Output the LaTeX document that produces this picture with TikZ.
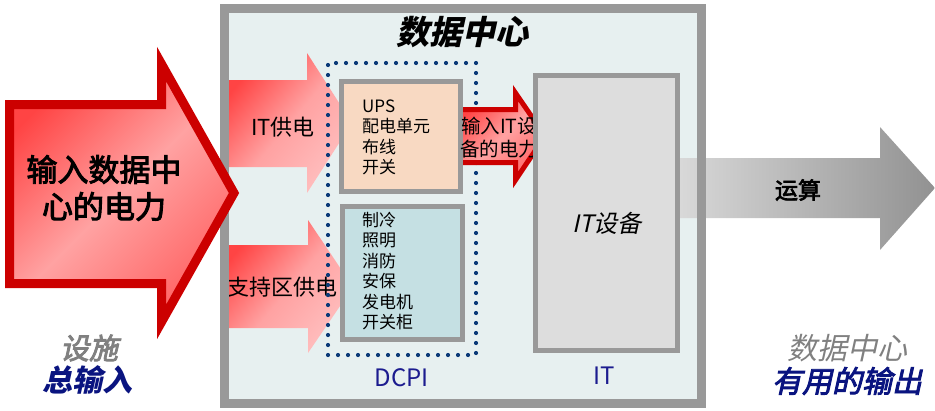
\documentclass[tikz,border=0pt]{standalone}
\usepackage{fontspec}
\setmainfont{Noto Sans CJK SC}
\newfontfamily\slantf[FakeSlant=0.22]{Noto Sans CJK SC}
\newfontfamily\medf[FakeBold=3]{Noto Sans CJK SC}
\newfontfamily\medslantf[FakeSlant=0.22,FakeBold=3]{Noto Sans CJK SC}
\definecolor{frameGray}{HTML}{999999}
\definecolor{frameFill}{HTML}{E7F0F0}
\definecolor{upsFill}{HTML}{F8D9C2}
\definecolor{coolFill}{HTML}{C5E0E3}
\definecolor{itFill}{HTML}{DDDDDD}
\definecolor{dotBlue}{HTML}{0B3A78}
\definecolor{labBlue}{HTML}{1C1C8F}
\definecolor{navy}{HTML}{0A1480}
\definecolor{darkRed}{HTML}{CC0000}
\definecolor{txtGray}{HTML}{808080}
\definecolor{redA}{HTML}{FF4444}
\definecolor{redB}{HTML}{FFA2A2}
\definecolor{redC}{HTML}{FF6464}
\definecolor{pinkD}{HTML}{FFC0C0}
\begin{document}
\begin{tikzpicture}[x=1pt,y=-1pt,
  framefill/.style={fill=frameFill,draw=none,minimum width=477pt,minimum height=395pt,inner sep=0pt},
  framestroke/.style={draw=frameGray,line width=9pt},
  inbox/.style={draw=frameGray,line width=5pt,inner sep=0pt},
  dotbox/.style={draw=dotBlue,line width=4.2pt,dash pattern=on 0pt off 10pt,line cap=round,inner sep=0pt},
  bigarrow/.style={top color=redA,bottom color=redC,middle color=redB,shading angle=45},
  subarrow/.style={top color=redA,bottom color=pinkD,middle color=redB,shading angle=50},
  midarrow/.style={top color=redA,bottom color=redC,middle color=redB,shading angle=45},
  grayarrow/.style={left color=black!15,right color=black!43},
  lab/.style={inner sep=0pt,align=center},
  listtxt/.style={inner sep=0pt,align=left,anchor=west,font=\fontsize{17}{20.4}\selectfont}
]
\useasboundingbox (0,0) rectangle (935,410);
% frame background
\node[framefill] (dc) at (463,206) {};
% IT power arrow
\path[subarrow] (228,80) -- (307,80) -- (307,53) -- (352,123) -- (307,193) -- (307,167) -- (228,167) -- cycle;
\node[lab,font=\fontsize{22}{26}\selectfont] (itpower) at (283,127) {IT供电};
% support power arrow
\path[subarrow] (228,245) -- (308,245) -- (308,220) -- (353,287) -- (308,353) -- (308,328) -- (228,328) -- cycle;
\node[lab,font=\fontsize{22}{26}\selectfont] (suppower) at (282,287) {支持区供电};
% dotted DCPI box
\node[dotbox,minimum width=148pt,minimum height=292pt] (dcpi) at (402,209) {};
% small red arrow
\path[midarrow] (461,109.5) -- (515.5,109.5) -- (515.5,93) -- (545,136) -- (515.5,180) -- (515.5,162.5) -- (461,162.5) -- cycle;
\draw[darkRed,line width=5pt,line join=miter] (461,109.5) -- (515.5,109.5) -- (515.5,93) -- (545,136) -- (515.5,180) -- (515.5,162.5) -- (461,162.5);
% boxes
\node[inbox,fill=upsFill,minimum width=119pt,minimum height=110pt] (ups) at (401,136.5) {};
\node[inbox,fill=coolFill,minimum width=120pt,minimum height=133pt] (cool) at (402.5,273) {};
\node[listtxt] (upslist) at (362,137.5) {UPS\\配电单元\\布线\\开关};
\node[listtxt] (coollist) at (362,271) {制冷\\照明\\消防\\安保\\发电机\\开关柜};
\node[lab,font=\fontsize{19.5}{23}\selectfont] (itin) at (499,138) {输入IT设\\备的电力};
% grey output arrow
\path[grayarrow] (678,158) -- (880,158) -- (880,127) -- (935,188) -- (880,250) -- (880,218) -- (678,218) -- cycle;
\node[inbox,fill=itFill,minimum width=142pt,minimum height=275pt] (it) at (606.5,213) {};
\node[lab,font=\slantf\fontsize{24}{28}\selectfont] (itdev) at (607,223) {IT设备};
% frame stroke
\draw[framestroke] (dc.north west) rectangle (dc.south east);
% big input arrow
\draw[bigarrow,draw=darkRed,line width=9pt,line join=miter] (9.5,104.5) -- (161.5,104.5) -- (161.5,64) -- (234,193) -- (161.5,322) -- (161.5,283.5) -- (9.5,283.5) -- cycle;
\node[lab,font=\medf\fontsize{31}{37}\selectfont] (bigtxt) at (104,188) {输入数据中\\心的电力};
% labels
\node[lab,font=\slantf\bfseries\fontsize{33}{37}\selectfont] (title) at (462,32) {数据中心};
\node[lab,text=labBlue,font=\fontsize{24}{28}\selectfont] (dcpilab) at (402,378) {DCPI};
\node[lab,text=labBlue,font=\fontsize{24}{28}\selectfont] (itlab) at (604,376) {IT};
\node[lab,font=\medf\fontsize{23}{27}\selectfont] (calc) at (798,190) {运算};
\node[lab,text=txtGray,font=\medslantf\fontsize{29}{33}\selectfont] (facil) at (89,348) {设施};
\node[lab,text=navy,font=\slantf\bfseries\fontsize{30}{34}\selectfont] (totin) at (87,380) {总输入};
\node[lab,text=txtGray,font=\slantf\fontsize{30}{34}\selectfont] (dcout) at (847,348) {数据中心};
\node[lab,text=navy,font=\medslantf\fontsize{30}{34}\selectfont] (useout) at (847,381) {有用的输出};
\end{tikzpicture}
\end{document}
